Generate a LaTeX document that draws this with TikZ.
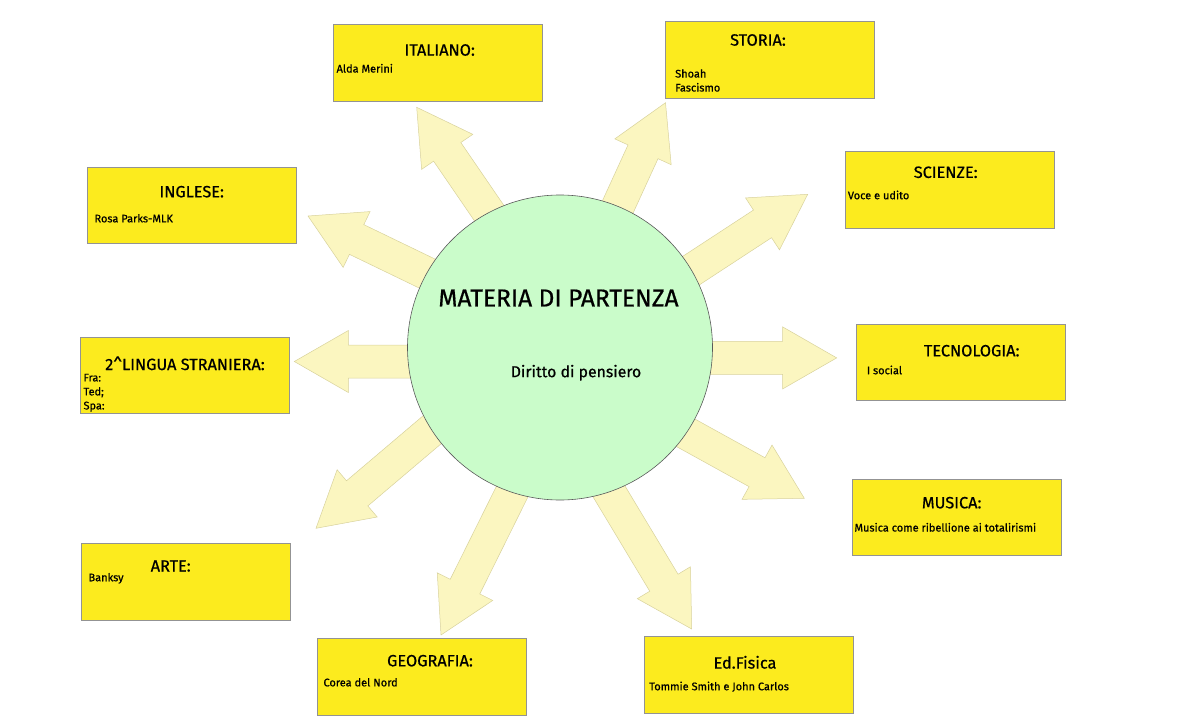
\documentclass[tikz,border=0pt]{standalone}
\usepackage{fontspec}
\setmainfont{Fira Sans}[FakeBold=0.6]
\usetikzlibrary{calc}

\definecolor{boxyellow}{HTML}{FCEB1E}
\definecolor{rayyellow}{HTML}{FBF6C0}
\definecolor{rayedge}{HTML}{D8D29C}
\definecolor{circgreen}{HTML}{CAFCCA}

\tikzset{
  subject/.style={draw=gray!85, fill=boxyellow, line width=0.6pt, minimum width=209pt, minimum height=76.5pt, inner sep=0pt},
  title/.style={font=\fontsize{16.3}{19}\selectfont, inner sep=0pt},
  body/.style={font=\fontsize{11}{14}\selectfont, anchor=west, inner sep=0pt, align=left},
  ray/.style={draw=rayedge, fill=rayyellow, line width=0.5pt, line join=miter},
}

% block arrow from #1 (tail) to #2 (tip)
\newcommand{\sunray}[2]{%
  \coordinate (#2base) at ($(#2)!54pt!(#1)$);
  \draw[ray] (#2) -- ($(#2base)!31pt!90:(#2)$) -- ($(#2base)!16.5pt!90:(#2)$)
    -- ($(#1)!16.5pt!90:(#2)$) -- ($(#1)!16.5pt!-90:(#2)$)
    -- ($(#2base)!16.5pt!-90:(#2)$) -- ($(#2base)!31pt!-90:(#2)$) -- cycle;
}

\begin{document}
\begin{tikzpicture}[x=1pt, y=-1pt]
    \useasboundingbox (0,0) rectangle (1200,728);

    % arrows (under the circle)
    \coordinate (tIta) at (416.7,107.3);  \coordinate (sIta) at (529.7,272.3);
    \coordinate (tSto) at (665.5,102.7);  \coordinate (sSto) at (582.2,284.5);
    \coordinate (tSci) at (807.7,194.3);  \coordinate (sSci) at (640.3,303.8);
    \coordinate (tTec) at (836.7,357.9);  \coordinate (sTec) at (636.7,357.9);
    \coordinate (tMus) at (804.3,498.3);  \coordinate (sMus) at (629.2,401.6);
    \coordinate (tEdf) at (691.7,629.0);  \coordinate (sEdf) at (588.7,457.6);
    \coordinate (tGeo) at (441.0,635.0);  \coordinate (sGeo) at (529.9,455.9);
    \coordinate (tArt) at (316.0,528.3);  \coordinate (sArt) at (468.5,398.9);
    \coordinate (tLin) at (294.3,361.5);  \coordinate (sLin) at (494.3,361.5);
    \coordinate (tIng) at (308.0,216.0);  \coordinate (sIng) at (488.1,303.0);
    \foreach \s in {Ita,Sto,Sci,Tec,Mus,Edf,Geo,Art,Lin,Ing}
        {\sunray{s\s}{t\s}}

    % centre
    \node[circle, draw=gray!70!black, line width=0.6pt, fill=circgreen, minimum size=305pt] (materia) at (560,347.5) {};
    \node[font=\fontsize{24.5}{28}\selectfont] (materiatitle) at (558.5,298) {MATERIA DI PARTENZA};
    \node[font=\fontsize{15.8}{18}\selectfont] (materiabody) at (576,372.7) {Diritto di pensiero};

    % subjects
    \node[subject] (ita) at (438.2,62.7) {};
    \node[title] at (439.7,50) {ITALIANO:};
    \node[body] at (336.4,68.3) {Alda Merini};

    \node[subject] (sto) at (770.2,60) {};
    \node[title] at (758,40) {STORIA:};
    \node[body] at (675,80.5) {Shoah\\Fascismo};

    \node[subject] (sci) at (949.5,189.7) {};
    \node[title] at (945.7,172.3) {SCIENZE:};
    \node[body] at (847.7,195) {Voce e udito};

    \node[subject] (tec) at (960.5,362.2) {};
    \node[title] at (971.7,350.7) {TECNOLOGIA:};
    \node[body] at (866.7,370) {I social};

    \node[subject] (mus) at (957,517.2) {};
    \node[title] at (951.7,502.7) {MUSICA:};
    \node[body] at (854.3,527.3) {Musica come ribellione ai totalirismi};

    \node[subject] (edf) at (748.8,675) {};
    \node[title] at (745,662.3) {Ed.Fisica};
    \node[body] at (649,686.7) {Tommie Smith e John Carlos};

    \node[subject] (geo) at (422,676.7) {};
    \node[title] at (430,660.7) {GEOGRAFIA:};
    \node[body] at (323.3,682.3) {Corea del Nord};

    \node[subject] (art) at (186,581.7) {};
    \node[title] at (170.7,566) {ARTE:};
    \node[body] at (88.3,578.3) {Banksy};

    \node[subject] (lin) at (185,375.5) {};
    \node[title] at (185,363.3) {2\textasciicircum LINGUA STRANIERA:};
    \node[body] at (83.3,392.8) {Fra:\\Ted;\\Spa:};

    \node[subject] (ing) at (191.4,205.2) {};
    \node[title] at (191.7,191.7) {INGLESE:};
    \node[body] at (94.3,218.3) {Rosa Parks-MLK};
\end{tikzpicture}
\end{document}
